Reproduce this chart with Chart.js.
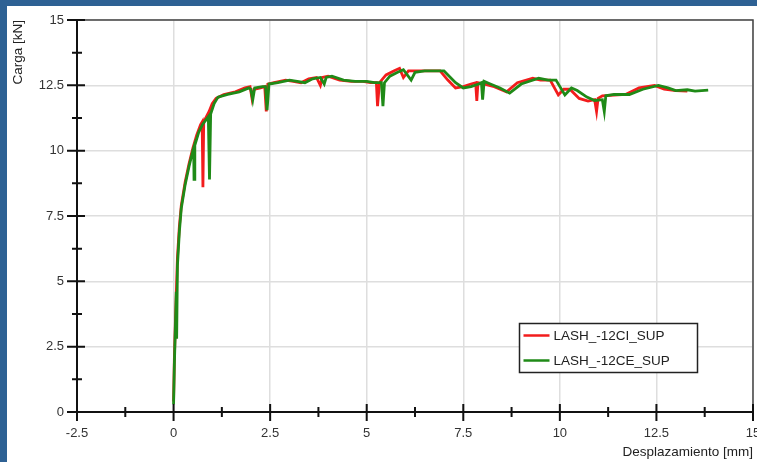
<!DOCTYPE html>
<html><head><meta charset="utf-8">
<script src="https://cdn.jsdelivr.net/npm/chart.js@4.4.0/dist/chart.umd.min.js"></script>
<style>
html,body{margin:0;padding:0;background:#2e6194;overflow:hidden;}
#wrap{position:absolute;left:0;top:0;width:757px;height:462px;}
</style></head>
<body><div id="wrap"><canvas id="c" width="757" height="462"></canvas></div>
<script>
// ---- data ----
const seriesNames = ['LASH_-12CI_SUP', 'LASH_-12CE_SUP'];
const xTickValues = [-2.5, 0, 2.5, 5, 7.5, 10, 12.5, 15];
const yTickValues = [0, 2.5, 5, 7.5, 10, 12.5, 15];
const xTitle = 'Desplazamiento [mm]';
const yTitle = 'Carga [kN]';

const ciX = [0,0.02,0.05,0.1,0.15,0.2,0.3,0.4,0.5,0.6,0.7,0.74,0.76,0.78,0.85,0.92,1.0,1.1,1.3,1.6,1.85,1.98,2.03,2.08,2.25,2.36,2.4,2.44,2.6,2.9,3.1,3.3,3.5,3.7,3.8,3.85,4.0,4.3,4.6,4.9,5.1,5.25,5.28,5.33,5.5,5.7,5.85,5.95,6.08,6.4,6.9,7.1,7.3,7.5,7.7,7.82,7.85,7.88,8.05,8.3,8.62,8.9,9.3,9.5,9.75,9.96,10.1,10.26,10.5,10.73,10.9,10.95,10.99,11.1,11.7,12.05,12.45,12.7,13.0,13.3];
const ciY = [0.4,2.0,3.6,5.9,7.1,7.9,8.8,9.5,10.1,10.6,11.0,11.1,8.6,11.1,11.3,11.5,11.8,12.0,12.15,12.25,12.4,12.45,12.0,12.35,12.4,12.45,11.5,12.55,12.6,12.7,12.65,12.6,12.75,12.8,12.5,12.8,12.85,12.7,12.65,12.65,12.6,12.6,11.7,12.6,12.9,13.05,13.15,12.8,13.05,13.05,13.05,12.7,12.4,12.45,12.55,12.6,11.9,12.6,12.55,12.45,12.25,12.6,12.77,12.7,12.7,12.13,12.35,12.35,12.0,11.9,11.95,11.5,12.0,12.1,12.15,12.4,12.5,12.35,12.3,12.28];

const ceX = [0,0.02,0.05,0.07,0.08,0.1,0.15,0.2,0.3,0.4,0.5,0.52,0.53,0.55,0.65,0.75,0.85,0.9,0.93,0.96,1.05,1.15,1.4,1.7,1.95,2.0,2.05,2.1,2.3,2.38,2.42,2.47,2.7,3.0,3.2,3.4,3.6,3.8,3.9,3.95,4.1,4.4,4.7,5.0,5.2,5.38,5.42,5.46,5.6,5.8,5.95,6.15,6.25,6.5,7.0,7.3,7.5,7.7,7.9,7.97,8.0,8.04,8.2,8.45,8.7,9.0,9.45,9.7,9.9,10.13,10.3,10.45,10.7,10.9,11.1,11.15,11.19,11.4,11.8,12.15,12.55,12.8,13.0,13.3,13.5,13.84];
const ceY = [0.3,1.8,3.4,4.6,2.8,5.6,6.9,7.8,8.7,9.4,10.0,10.1,8.9,10.2,10.7,11.0,11.2,11.3,8.9,11.4,11.8,12.05,12.15,12.25,12.4,12.35,11.95,12.4,12.45,12.45,11.55,12.55,12.6,12.7,12.65,12.6,12.75,12.8,12.55,12.8,12.85,12.7,12.65,12.65,12.6,12.6,11.7,12.6,12.85,13.0,13.1,12.7,13.0,13.05,13.05,12.6,12.4,12.45,12.55,12.6,11.95,12.65,12.55,12.4,12.2,12.55,12.77,12.7,12.7,12.13,12.4,12.3,12.05,11.92,11.95,11.5,12.1,12.15,12.15,12.35,12.5,12.4,12.3,12.33,12.28,12.32];

const seriesColors = ['#f21c1c', '#1f8a17'];

// ---- plugins ----
const FONT_FAMILY = '"Liberation Sans", Arial, sans-serif';
const framePlugin = {
  id: 'frame',
  beforeDraw(chart) {
    const ctx = chart.ctx;
    ctx.save();
    ctx.fillStyle = '#2e6194';
    ctx.fillRect(0, 0, chart.width, chart.height);
    ctx.fillStyle = '#ffffff';
    ctx.fillRect(7, 6, chart.width - 7, chart.height - 6);
    ctx.restore();
  },
  afterDraw(chart) {
    const ctx = chart.ctx, a = chart.chartArea;
    const xs = chart.scales.x, ys = chart.scales.y;
    ctx.save();
    ctx.strokeStyle = '#444';
    ctx.lineWidth = 1.5;
    ctx.beginPath();
    ctx.moveTo(a.left, a.top); ctx.lineTo(a.right, a.top); ctx.lineTo(a.right, a.bottom);
    ctx.stroke();
    ctx.strokeStyle = '#111';
    ctx.lineWidth = 2;
    ctx.beginPath();
    for (let i = 0; i < xTickValues.length; i++) {
      const v = xTickValues[i];
      const px = xs.getPixelForValue(v);
      ctx.moveTo(px, a.bottom - 8); ctx.lineTo(px, a.bottom + 9);
      if (i < xTickValues.length - 1) {
        const m = xs.getPixelForValue((v + xTickValues[i + 1]) / 2);
        ctx.moveTo(m, a.bottom - 5); ctx.lineTo(m, a.bottom + 5);
      }
    }
    for (let i = 0; i < yTickValues.length; i++) {
      const v = yTickValues[i];
      const py = ys.getPixelForValue(v);
      ctx.moveTo(a.left - 10, py); ctx.lineTo(a.left + 8, py);
      if (i < yTickValues.length - 1) {
        const m = ys.getPixelForValue((v + yTickValues[i + 1]) / 2);
        ctx.moveTo(a.left - 5, m); ctx.lineTo(a.left + 5, m);
      }
    }
    ctx.stroke();
    // legend
    const bx = 519.5, by = 323.5, bw = 178, bh = 49;
    ctx.fillStyle = '#fff';
    ctx.fillRect(bx, by, bw, bh);
    ctx.strokeStyle = '#222';
    ctx.lineWidth = 1.5;
    ctx.strokeRect(bx, by, bw, bh);
    ctx.font = '13.5px ' + FONT_FAMILY;
    ctx.textBaseline = 'middle';
    ctx.textAlign = 'left';
    chart.data.datasets.forEach((ds, i) => {
      const ly = by + 12 + i * 25;
      ctx.strokeStyle = ds.borderColor;
      ctx.lineWidth = 2.5;
      ctx.beginPath(); ctx.moveTo(bx + 4, ly); ctx.lineTo(bx + 30, ly); ctx.stroke();
      ctx.fillStyle = '#222';
      ctx.fillText(ds.label, bx + 34, ly + 0.5);
    });
    ctx.restore();
  }
};

function pts(xs, ys) { return xs.map((x, i) => ({ x: x, y: ys[i] })); }

const tickFont = { family: FONT_FAMILY, size: 13 };
const gridColor = '#dedede';

new Chart(document.getElementById('c'), {
  type: 'scatter',
  data: {
    datasets: [
      { label: seriesNames[0], data: pts(ciX, ciY), borderColor: seriesColors[0], backgroundColor: seriesColors[0],
        showLine: true, pointRadius: 0, borderWidth: 2.8, tension: 0, order: 2 },
      { label: seriesNames[1], data: pts(ceX, ceY), borderColor: seriesColors[1], backgroundColor: seriesColors[1],
        showLine: true, pointRadius: 0, borderWidth: 2.8, tension: 0, order: 1 }
    ]
  },
  options: {
    responsive: false, animation: false, devicePixelRatio: 1,
    layout: { padding: { left: 0, top: 20, right: 4, bottom: 0 } },
    plugins: { legend: { display: false }, tooltip: { enabled: false } },
    scales: {
      x: {
        type: 'linear', min: xTickValues[0], max: xTickValues[xTickValues.length - 1],
        afterBuildTicks(s) { s.ticks = xTickValues.map(v => ({ value: v })); },
        afterFit(s) { s.height = 50; s.paddingLeft = 0; s.paddingRight = 0; },
        grid: { color: gridColor, lineWidth: 1.5, drawTicks: false },
        border: { display: true, color: '#111', width: 2 },
        ticks: { font: tickFont, color: '#333', padding: 14, maxRotation: 0, autoSkip: false,
                 callback: v => String(v) },
        title: { display: true, text: xTitle, align: 'end', color: '#222',
                 font: { family: FONT_FAMILY, size: 13.5 }, padding: { top: 0, bottom: 2 } }
      },
      y: {
        type: 'linear', min: yTickValues[0], max: yTickValues[yTickValues.length - 1],
        afterBuildTicks(s) { s.ticks = yTickValues.map(v => ({ value: v })); },
        afterFit(s) { s.width = 77; s.paddingTop = 0; s.paddingBottom = 0; },
        grid: { color: gridColor, lineWidth: 1.5, drawTicks: false },
        border: { display: true, color: '#111', width: 2 },
        ticks: { font: tickFont, color: '#333', padding: 13, autoSkip: false, callback: v => String(v) },
        title: { display: true, text: yTitle, align: 'end', color: '#222',
                 font: { family: FONT_FAMILY, size: 13.5 }, padding: { top: 10, bottom: 0 } }
      }
    }
  },
  plugins: [framePlugin]
});
</script>
</body></html>
